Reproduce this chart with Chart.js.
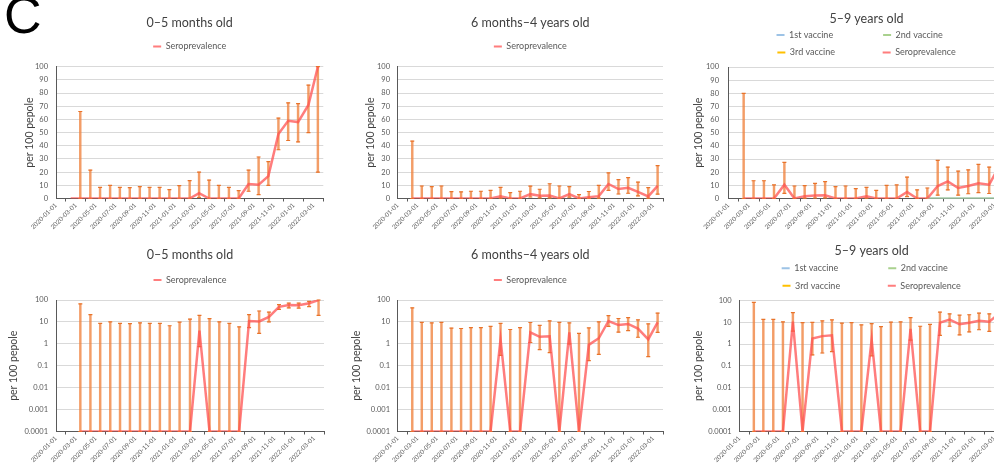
<!DOCTYPE html>
<html>
<head>
<meta charset="utf-8">
<script src="https://cdn.jsdelivr.net/npm/chart.js@4.4.1/dist/chart.umd.min.js"></script>
<style>
html,body{margin:0;padding:0;background:#fff;width:994px;height:465px;overflow:hidden;position:relative;}
canvas{position:absolute;}
#panelLetter{position:absolute;left:4px;top:-11px;font:52px 'Liberation Sans',Arial,sans-serif;line-height:52px;color:#000;}
</style>
</head>
<body>
<div id="panelLetter">C</div>
<canvas id="c1"></canvas>
<canvas id="c2"></canvas>
<canvas id="c3"></canvas>
<canvas id="c4"></canvas>
<canvas id="c5"></canvas>
<canvas id="c6"></canvas>
<script>
// ---------------- data ----------------
const surveyDates = ['2020-02-15','2020-03-15','2020-04-15','2020-05-15','2020-06-15','2020-07-15','2020-08-15','2020-09-15','2020-10-15','2020-11-15','2020-12-15',
  '2021-01-15','2021-02-15','2021-03-15','2021-04-15','2021-05-15','2021-06-15','2021-07-15','2021-08-15','2021-09-15','2021-10-15','2021-11-15','2021-12-15',
  '2022-01-15','2022-02-15','2022-03-15'];
const xTickLabels = ['2020-01-01','2020-03-01','2020-05-01','2020-07-01','2020-09-01','2020-11-01','2021-01-01','2021-03-01','2021-05-01','2021-07-01','2021-09-01','2021-11-01','2022-01-01','2022-03-01'];
const xAxisEnd = '2022-04-01';
const yTicksLinear = [0,10,20,30,40,50,60,70,80,90,100];
const yTicksLog = [0.0001,0.001,0.01,0.1,1,10,100];
const yAxisTitle = 'per 100 pepole';

// 0–5 months old
const seroInfant = [0,0,0,0,0,0,0,0,0,0,0,0,0,4,0,0,0,0,11,10.5,17,49,59,58,71,100];
const loInfant   = [null,0,0,0,0,0,0,0,0,0,0,0,0,0.75,0,0,0,0,5.5,3,10,37,44,43,50,20];
const hiInfant   = [null,66,21.5,8.5,10,8.5,8.3,9,8.5,8.5,6.7,9.7,13.5,20,14,10,8.5,6,21.5,31.5,28,61,72.5,72,86,100];

// 6 months–4 years old
const seroToddler = [0,0,0,0,0,0,0,0,0,1.6,0,0,3.3,2.1,2.2,0,3.3,0,0.9,1.8,11,7.2,8.1,5,1.6,9.6];
const loToddler   = [0,0,0,0,0,0,0,0,0,0.3,0,0,1.15,0.54,0.4,0,1,0,0.17,0.33,6.2,3.4,4,2,0.26,3.3];
const hiToddler   = [43.5,9.5,9,9.5,5.2,5,5.5,5.5,6.2,8.5,4.5,5.5,9.4,7,11.2,9.5,9,3,5.3,10,19.5,14.3,15.8,12.5,8.2,25];

// 5–9 years old
const seroChild = [0,0,0,0,10.5,0,1.8,2.3,2.5,0,0,0,1.6,0,0,0,5,0,0,9.5,13,8,9.5,11.5,10.5,24];
const loChild   = [0,0,0,0,3.9,0,0.32,0.39,0.45,0,0,0,0.29,0,0,0,1.5,0,0,2.5,6.5,2.6,3.6,4.5,3.8,11];
const hiChild   = [80,13.5,13.5,10.3,27.5,9.5,9.8,11.5,12.8,9,9.5,7.5,8.5,6.2,10,10.3,16.3,6.5,8,29,23.8,20.8,21.8,26,23.8,42];
const vac1Child = [null,null,null,null,null,null,null,null,null,null,null,null,null,null,null,null,null,null,0,0,0,0,0,0,0,0];
const vac2Child = [null,null,null,null,null,null,null,null,null,null,null,null,null,null,null,null,null,null,0,0,0,0,0,0,0,0];
const vac3Child = [null,null,null,null,null,null,null,null,null,null,null,null,null,null,null,null,null,null,null,null,null,null,null,null,null,null];

// ---------------- styles ----------------
const SERO = 'rgba(255,82,82,0.75)';
const ERR = 'rgba(240,130,60,0.78)';
const CAP = '#E8732A';
const AXIS = '#595959';
const GRID = '#D9D9D9';
const TXT = '#595959';
const TITLE = '#404040';
Chart.defaults.font.family = 'Lato';

function monthPos(s){
  const [y,m,d] = s.split('-').map(Number);
  const dim = new Date(y, m, 0).getDate();
  return (y-2020)*12 + (m-1) + (d-1)/dim;
}

const measureCtx = document.createElement('canvas').getContext('2d');
function legendLabels(chart){
  const items = Chart.defaults.plugins.legend.labels.generateLabels(chart)
    .filter(it => !chart.data.datasets[it.datasetIndex].errPart)
    .sort((a, b) => a.datasetIndex - b.datasetIndex)
    .map(it => Object.assign(it, {lineWidth: 0}));
  if (items.length === 4) {
    measureCtx.font = '9px Lato';
    const w = t => measureCtx.measureText(t).width;
    const pad = (t, target) => { while (w(t) < target) t += ' '; return t; };
    const col2 = Math.max(w(items[1].text), w(items[3].text));
    items.forEach((it, k) => { it.text = pad(it.text, k % 2 === 0 ? 84 : col2); });
  }
  return items;
}

const panels = [
  {id:'c1', title:'0–5 months old', sero:seroInfant, lo:loInfant, hi:hiInfant, log:false, vaccines:false,
   g:{left:0, top:0, w:330, h:232, yW:56, padR:6.7, yTitlePad:23.2, yTickPad:8, tTop:15.3, tBot:3.2, spacer:5.7}},
  {id:'c2', title:'6 months–4 years old', sero:seroToddler, lo:loToddler, hi:hiToddler, log:false, vaccines:false,
   g:{left:330, top:0, w:335, h:232, yW:67.7, padR:2, yTitlePad:34.7, yTickPad:7.7, tTop:15.3, tBot:3.2, spacer:5.7}},
  {id:'c3', title:'5–9 years old', sero:seroChild, lo:loChild, hi:hiChild, log:false, vaccines:true,
   g:{left:660, top:0, w:345, h:232, yW:68.5, padR:0.5, yTitlePad:32.7, yTickPad:9.5, tTop:11.2, tBot:-4.2, spacer:0}},
  {id:'c4', title:'0–5 months old', sero:seroInfant, lo:loInfant, hi:hiInfant, log:true, vaccines:false,
   g:{left:0, top:232, w:330, h:233, yW:56, padR:6, yTitlePad:7.7, yTickPad:8, tTop:15.5, tBot:4.5, spacer:5.5}},
  {id:'c5', title:'6 months–4 years old', sero:seroToddler, lo:loToddler, hi:hiToddler, log:true, vaccines:false,
   g:{left:330, top:232, w:335, h:233, yW:67.7, padR:2, yTitlePad:20.4, yTickPad:7.7, tTop:15.5, tBot:4.5, spacer:5.5}},
  {id:'c6', title:'5–9 years old', sero:seroChild, lo:loChild, hi:hiChild, log:true, vaccines:true,
   g:{left:660, top:232, w:346, h:233, yW:79.3, padR:2, yTitlePad:32.7, yTickPad:7.6, tTop:11.5, tBot:-3.2, spacer:0}}
];

function buildDatasets(p){
  const xs = surveyDates.map(monthPos);
  const floorV = yTicksLog[0];
  const ds = [];
  if (p.vaccines) {
    const vac = (arr) => xs.map((x,i) => ({x, y: (arr[i] === null || (p.log && arr[i] === 0)) ? null : arr[i]}));
    ds.push({label:'1st vaccine', data:vac(vac1Child), borderColor:'#9DC3E6', backgroundColor:'#9DC3E6', borderWidth:1.8, pointRadius:0, order:2});
    ds.push({label:'2nd vaccine', data:vac(vac2Child), borderColor:'#A9D18E', backgroundColor:'#A9D18E', borderWidth:1.8, pointRadius:0, order:1});
    ds.push({label:'3rd vaccine', data:vac(vac3Child), borderColor:'#FFC000', backgroundColor:'#FFC000', borderWidth:1.8, pointRadius:0, order:1.5});
  }
  ds.push({label:'Seroprevalence',
    data: xs.map((x,i) => ({x, y: p.log ? (p.sero[i] === 0 ? (p.hi[i] !== null ? floorV : null) : p.sero[i]) : p.sero[i]})),
    borderColor:SERO, backgroundColor:SERO, borderWidth:2.5, pointRadius:0, order:0});
  const fl = v => (p.log && v === 0) ? floorV : v;
  const idx = xs.map((x,i) => i).filter(i => p.hi[i] !== null);
  ds.push({type:'bar', label:'error', errPart:true, data: idx.map(i => ({x:xs[i], y:[fl(p.lo[i]), p.hi[i]]})),
    backgroundColor:ERR, borderWidth:0, barThickness:1.8, order:5, clip:4});
  ds.push({type:'line', label:'error high', errPart:true, showLine:false, data: idx.map(i => ({x:xs[i], y:p.hi[i]})),
    pointStyle:'line', pointRadius:2, pointHoverRadius:0, pointBorderWidth:1.2, pointBorderColor:CAP, pointBackgroundColor:CAP, borderColor:CAP, backgroundColor:CAP, order:4, clip:4});
  ds.push({type:'line', label:'error low', errPart:true, showLine:false, data: idx.map(i => ({x:xs[i], y:fl(p.lo[i])})),
    pointStyle:'line', pointRadius:2, pointHoverRadius:0, pointBorderWidth:1.2, pointBorderColor:CAP, pointBackgroundColor:CAP, borderColor:CAP, backgroundColor:CAP, order:4, clip:4});
  return ds;
}

panels.forEach(p => {
  const g = p.g;
  const c = document.getElementById(p.id);
  c.width = g.w; c.height = g.h;
  c.style.left = g.left + 'px'; c.style.top = g.top + 'px';
  const yTicks = p.log ? yTicksLog : yTicksLinear;
  new Chart(c, {
    type: 'line',
    data: { datasets: buildDatasets(p) },
    options: {
      responsive: false, animation: false, devicePixelRatio: 1, events: [],
      layout: { autoPadding: false, padding: { left: 0, right: g.padR, top: 0, bottom: 0 } },
      plugins: {
        title: { display: true, text: p.title, fullSize: false, color: TITLE,
          font: { family: 'Lato', size: 12.5, weight: 'normal' }, padding: { top: g.tTop, bottom: g.tBot } },
        subtitle: { display: g.spacer > 0, text: ' ', fullSize: false, weight: 500, color: 'rgba(0,0,0,0)',
          font: { size: 1, lineHeight: 1 }, padding: { top: Math.max(g.spacer - 1, 0), bottom: 0 } },
        legend: { display: true, position: 'top', fullSize: false, align: 'center',
          labels: { boxWidth: 8, boxHeight: 2, padding: 8.5, color: TXT, font: { family: 'Lato', size: 9 }, generateLabels: legendLabels } },
        tooltip: { enabled: false }
      },
      scales: {
        x: {
          type: 'linear', min: 0, max: monthPos(xAxisEnd), offset: false,
          grid: { display: true, drawOnChartArea: false, drawTicks: true, tickLength: 3, color: AXIS, lineWidth: 1 },
          border: { display: true, color: AXIS, width: 1 },
          ticks: { autoSkip: false, minRotation: 45, maxRotation: 45, padding: 0, color: TXT,
            font: { family: 'Lato', size: 6.3 }, callback: (v, i) => xTickLabels[i] },
          afterBuildTicks: s => { s.ticks = xTickLabels.map(l => ({ value: monthPos(l) })); },
          afterFit: s => { s.height = 33.5; s.paddingLeft = 0; s.paddingRight = 0; }
        },
        y: {
          type: p.log ? 'logarithmic' : 'linear',
          min: yTicks[0], max: yTicks[yTicks.length - 1],
          grid: { color: GRID, lineWidth: 1, drawTicks: false },
          border: { display: true, color: AXIS, width: 1 },
          ticks: { padding: g.yTickPad, color: TXT, font: { family: 'Lato', size: 7.5 }, callback: v => String(v) },
          title: { display: true, text: yAxisTitle, color: TITLE, font: { family: 'Lato', size: 10.5 },
            padding: { top: g.yTitlePad, bottom: 0 } },
          afterBuildTicks: s => { s.ticks = yTicks.map(v => ({ value: v })); },
          afterFit: s => { s.width = g.yW; }
        }
      }
    }
  });
});
</script>
</body>
</html>
